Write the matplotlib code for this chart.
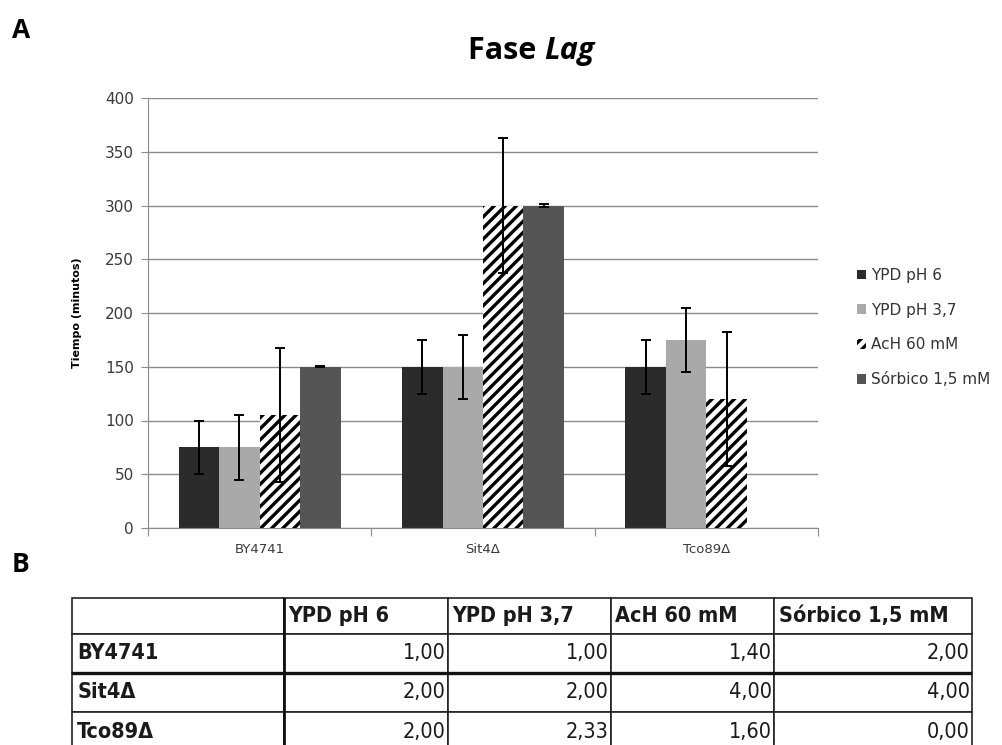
import numpy as np
import matplotlib
matplotlib.use("Agg")
import matplotlib.pyplot as plt
from matplotlib.patches import Patch
from matplotlib.table import Table

# Datos: tiempo de fase lag (minutos) por cepa y condición
cepas = ["BY4741", "Sit4\u0394", "Tco89\u0394"]
condiciones = ["YPD pH 6", "YPD pH 3,7", "AcH 60 mM", "S\u00f3rbico 1,5 mM"]
ypd_6 = [75, 150, 150]
ypd_6_err = [25, 25, 25]
ypd_37 = [75, 150, 175]
ypd_37_err = [30, 30, 30]
ach_60 = [105, 300, 120]
ach_60_err = [62, 63, 62]
sorbico = [150, 300, 0]
sorbico_err = [0.5, 1, 0]

# Tabla B: veces respecto al control
tabla_vals = [
    [1.00, 1.00, 1.40, 2.00],
    [2.00, 2.00, 4.00, 4.00],
    [2.00, 2.33, 1.60, 0.00],
]

plt.rcParams["hatch.linewidth"] = 2.4

fig = plt.figure(figsize=(10.03, 7.45), dpi=100)
ax = fig.add_axes([148 / 1003, 1 - 528 / 745, 670 / 1003, 430 / 745])

series = [ypd_6, ypd_37, ach_60, sorbico]
errores = [ypd_6_err, ypd_37_err, ach_60_err, sorbico_err]
colores = ["#2b2b2b", "#a9a9a9", "white", "#555555"]
hatches = [None, None, "///", None]
w = 0.181
x = np.arange(len(cepas))
for i, (vals, errs) in enumerate(zip(series, errores)):
    pos = x + (i - 1.5) * w
    ax.bar(pos, vals, width=w, color=colores[i], edgecolor="black" if hatches[i] else colores[i],
           linewidth=0, hatch=hatches[i], zorder=2)
    v = np.array(vals, dtype=float)
    e = np.array(errs, dtype=float)
    m = v > 0
    ax.errorbar(pos[m], v[m], yerr=e[m], fmt="none", ecolor="black",
                elinewidth=1.4, capsize=3.5, capthick=1.4, zorder=3)

ax.set_xlim(-0.5, 2.5)
ax.set_ylim(0, 400)
ax.set_yticks(np.arange(0, 401, 50))
ax.yaxis.grid(True, color="#8a8a8a", linewidth=1)
ax.set_axisbelow(True)
for s in ["top", "right"]:
    ax.spines[s].set_visible(False)
for s in ["left", "bottom"]:
    ax.spines[s].set_color("#8a8a8a")
ax.tick_params(axis="y", colors="#8a8a8a", labelcolor="#3a3a3a", labelsize=11, length=5, pad=5)

ax.set_xticks([-0.5, 0.5, 1.5, 2.5])
ax.set_xticklabels([])
ax.set_xticks(x, minor=True)
ax.set_xticklabels(cepas, minor=True)
ax.tick_params(axis="x", which="major", colors="#8a8a8a", length=6)
ax.tick_params(axis="x", which="minor", length=0, labelcolor="#3a3a3a", labelsize=9.5, pad=11)

ax.set_ylabel("Tiempo (minutos)", fontsize=8, fontweight="bold")
ax.yaxis.set_label_coords(-0.099, 0.5)

# título con "Lag" en cursiva
rend = fig.canvas.get_renderer()
t1 = fig.text(0, 1 - 51 / 745, "Fase ", ha="left", va="center", fontsize=22,
              fontweight="bold", family="Open Sans")
t2 = fig.text(0, 1 - 51 / 745, "Lag", ha="left", va="center", fontsize=22,
              fontweight="bold", style="italic", family="Open Sans")
w1 = t1.get_window_extent(rend).width
w2 = t2.get_window_extent(rend).width
x0 = 531 - (w1 + w2) / 2
t1.set_x(x0 / 1003)
t2.set_x((x0 + w1) / 1003)

fig.text(12 / 1003, 1 - 31 / 745, "A", ha="left", va="center", fontsize=19, fontweight="bold",
         family="Open Sans")
fig.text(12 / 1003, 1 - 565 / 745, "B", ha="left", va="center", fontsize=19, fontweight="bold",
         family="Open Sans")

handles = [Patch(facecolor=colores[i], edgecolor="black" if hatches[i] else colores[i],
                 hatch=hatches[i], linewidth=0) for i in range(4)]
leg = fig.legend(handles, condiciones, loc="upper left", bbox_to_anchor=(843 / 1003, 1 - 254 / 745),
                 frameon=False, fontsize=11, handlelength=0.6, handleheight=0.6,
                 handletextpad=0.35, labelspacing=1.3)
for t in leg.get_texts():
    t.set_color("#333333")

# Tabla B
tax = fig.add_axes([72 / 1003, 1 - 752 / 745, 900 / 1003, 154 / 745])
tax.axis("off")
tabla = Table(tax, bbox=[0, 0, 1, 1])
anchos = np.array([212, 163.5, 163, 163, 198]) / 900
altos = np.array([35.5, 39.5, 39, 40]) / 154
encab = [""] + condiciones
for c in range(5):
    cell = tabla.add_cell(0, c, width=anchos[c], height=altos[0], text=encab[c], loc="left")
    cell.PAD = 0.025
    cell.get_text().set_fontweight("bold")
for r, cepa in enumerate(cepas, start=1):
    cell = tabla.add_cell(r, 0, width=anchos[0], height=altos[r], text=cepa, loc="left")
    cell.PAD = 0.025
    cell.get_text().set_fontweight("bold")
    for c, v in enumerate(tabla_vals[r - 1], start=1):
        txt = f"{v:.2f}".replace(".", ",")
        cell = tabla.add_cell(r, c, width=anchos[c], height=altos[r], text=txt, loc="right")
        cell.PAD = 0.012
for cell in tabla.get_celld().values():
    cell.set_edgecolor("#222222")
    cell.set_linewidth(1.2)
    cell.get_text().set_fontfamily("DejaVu Sans")
    cell.get_text().set_fontstretch("condensed")
    cell.get_text().set_color("#1a1a1a")
tabla.auto_set_font_size(False)
tabla.set_fontsize(15.5)
tax.add_table(tabla)
# líneas gruesas de separación
tax.axhline(1 - (altos[0] + altos[1]), color="#111111", linewidth=2.4)
tax.axvline(anchos[0], color="#111111", linewidth=2.0)

fig.savefig("out.png", dpi=100)
